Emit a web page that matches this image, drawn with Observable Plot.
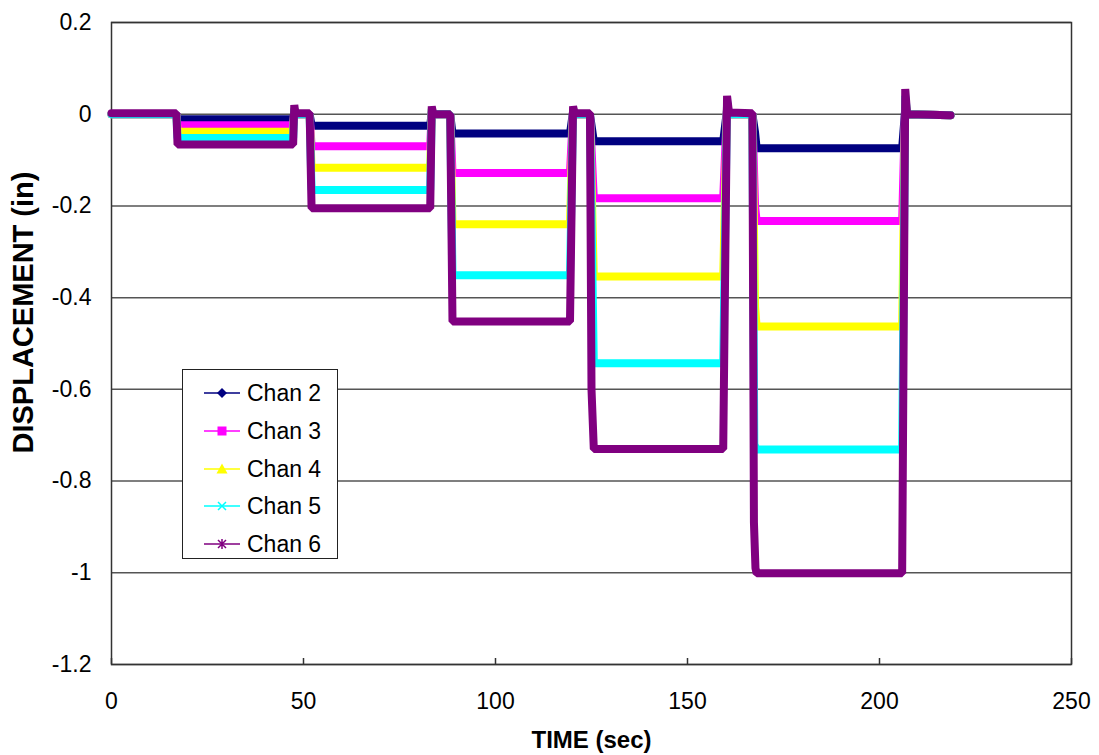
<!DOCTYPE html>
<html>
<head>
<meta charset="utf-8">
<script src="https://cdn.jsdelivr.net/npm/d3@7"></script>
<script src="https://cdn.jsdelivr.net/npm/@observablehq/plot@0.6"></script>
<style>
  body { margin: 0; background: #fff; }
  #wrap { position: relative; width: 1099px; height: 755px; font-family: "Liberation Sans", Arial, sans-serif; }
  #legend { position: absolute; left: 182px; top: 369px; width: 156px; height: 190px; border: 1.5px solid #222; background: #fff; box-sizing: border-box; }
  .row { position: absolute; left: 0; height: 30px; display: flex; align-items: center; }
  .row svg { margin-left: 21px; }
  .row span { margin-left: 7px; font-size: 23px; color: #000; }
</style>
</head>
<body>
<div id="wrap"><div id="legend"></div></div>
<script>
// ---- data ----
const channels = ["Chan 2", "Chan 3", "Chan 4", "Chan 5", "Chan 6"];
const colors = ["#000080", "#FF00FF", "#FFFF00", "#00FFFF", "#800080"];
const symbols = ["diamond", "square", "triangle", "cross", "asterisk"];

const xTicks = [0, 50, 100, 150, 200, 250];
const yTicks = [-1.2, -1, -0.8, -0.6, -0.4, -0.2, 0, 0.2];
const yTickLabels = ["-1.2", "-1", "-0.8", "-0.6", "-0.4", "-0.2", "0", "0.2"];

// [time (sec), displacement (in)]
const chan2 = [[0,0],[16.9,0],[17.2,-0.011],[47.3,-0.011],[47.6,0.004],[47.9,0],[51.6,0],[52.1,-0.025],[83.0,-0.025],[83.4,0.005],[83.8,0],[88.2,0],[88.8,-0.042],[119.4,-0.042],[120.2,0.006],[120.6,0],[124.6,0],[125.6,-0.059],[159.3,-0.059],[160.3,0.01],[160.8,0],[166.9,0],[167.6,-0.04],[168.0,-0.074],[205.9,-0.074],[206.7,0.012],[207.2,0],[218.5,-0.002]];
const chan3 = [[0,0],[16.9,0],[17.2,-0.024],[47.3,-0.024],[47.6,0.008],[47.9,0],[51.6,0],[52.1,-0.070],[83.0,-0.070],[83.4,0.008],[83.8,0],[88.2,0],[88.8,-0.128],[119.4,-0.128],[120.2,0.01],[120.6,0],[124.6,0],[125.6,-0.183],[159.3,-0.183],[160.3,0.02],[160.8,0],[166.9,0],[167.6,-0.2],[168.0,-0.233],[205.9,-0.233],[206.7,0.025],[207.2,0],[218.5,-0.002]];
const chan4 = [[0,0],[16.9,0],[17.2,-0.038],[47.3,-0.038],[47.6,0.012],[47.9,0],[51.6,0],[52.1,-0.117],[83.0,-0.117],[83.4,0.012],[83.8,0],[88.2,0],[88.8,-0.240],[119.4,-0.240],[120.2,0.012],[120.6,0],[124.6,0],[125.6,-0.354],[159.3,-0.354],[160.3,0.025],[160.8,0],[166.9,0],[167.6,-0.42],[168.0,-0.463],[205.9,-0.463],[206.7,0.035],[207.2,0],[218.5,-0.002]];
const chan5 = [[0,0],[16.9,0],[17.2,-0.052],[47.3,-0.052],[47.6,0.012],[47.9,0],[51.6,0],[52.1,-0.165],[83.0,-0.165],[83.4,0.012],[83.8,0],[88.2,0],[88.8,-0.351],[119.4,-0.351],[120.2,0.012],[120.6,0],[124.6,0],[125.6,-0.543],[159.3,-0.543],[160.3,0.03],[160.8,0],[166.9,0],[167.4,-0.72],[168.0,-0.731],[205.9,-0.731],[206.7,0.04],[207.2,0],[218.5,-0.002]];
const chan6 = [[0,0.002],[16.9,0.002],[17.2,-0.066],[47.3,-0.066],[47.6,0.02],[47.9,0.002],[51.6,0.002],[52.1,-0.205],[83.0,-0.205],[83.4,0.017],[83.8,0],[88.2,0],[88.8,-0.452],[119.4,-0.452],[120.2,0.017],[120.6,0.002],[124.6,0.002],[125.0,-0.6],[125.6,-0.730],[159.3,-0.730],[160.3,0.04],[160.8,0.004],[166.9,0.002],[167.3,-0.89],[167.7,-0.99],[168.0,-1.001],[205.9,-1.001],[206.7,0.055],[207.2,0],[218.5,-0.002]];

const series = [chan2, chan3, chan4, chan5, chan6];
const rows = channels.flatMap((ch, i) => series[i].map(([t, v]) => ({ch, t, v})));

const font = '"Liberation Sans", Arial, sans-serif';

const chart = Plot.plot({
  width: 1099,
  height: 755,
  marginLeft: 111,
  marginRight: 28,
  marginTop: 22,
  marginBottom: 91,
  x: {domain: [0, 250]},
  y: {domain: [-1.2, 0.2]},
  color: {domain: channels, range: colors},
  style: {fontFamily: font, fontSize: "23px", color: "#000", background: "#fff"},
  marks: [
    Plot.gridY(yTicks, {stroke: "#555", strokeOpacity: 1, strokeWidth: 1.5}),
    Plot.frame({stroke: "#333", strokeWidth: 1.5}),
    Plot.axisY(yTicks, {tickSize: 0, tickPadding: 20, fontSize: 23, label: null,
      tickFormat: d => yTickLabels[yTicks.indexOf(d)]}),
    Plot.axisX(xTicks, {tickSize: 0, tickPadding: 28, fontSize: 23, label: null}),
    Plot.tickX(xTicks, {x: d => d, insetTop: 636, stroke: "#333", strokeWidth: 1.5}),
    Plot.line(rows, {x: "t", y: "v", z: "ch", stroke: "ch", strokeWidth: 8, strokeLinejoin: "miter", curve: "linear"}),
    Plot.text(["DISPLACEMENT (in)"], {frameAnchor: "left", textAnchor: "middle", dx: -88, dy: -31, rotate: -90, text: d => d, fontWeight: "bold", fontSize: 29}),
    Plot.text(["TIME (sec)"], {frameAnchor: "bottom", dy: 83, text: d => d, fontWeight: "bold", fontSize: 24})
  ]
});
document.getElementById("wrap").prepend(chart);

// ---- legend ----
const legend = document.getElementById("legend");
const symbolSvg = (sym, c) => {
  const cx = 18, cy = 7;
  switch (sym) {
    case "diamond": return `<path d="M${cx},${cy-5}L${cx+5},${cy}L${cx},${cy+5}L${cx-5},${cy}Z" fill="${c}"/>`;
    case "square": return `<rect x="${cx-4.5}" y="${cy-4.5}" width="9" height="9" fill="${c}"/>`;
    case "triangle": return `<path d="M${cx},${cy-5.5}L${cx+5.5},${cy+4.5}L${cx-5.5},${cy+4.5}Z" fill="${c}"/>`;
    case "cross": return `<path d="M${cx-4},${cy-4}L${cx+4},${cy+4}M${cx+4},${cy-4}L${cx-4},${cy+4}" stroke="${c}" stroke-width="1.5"/>`;
    default: return `<path d="M${cx-4},${cy-4}L${cx+4},${cy+4}M${cx+4},${cy-4}L${cx-4},${cy+4}M${cx},${cy-5}L${cx},${cy+5}" stroke="${c}" stroke-width="1.5"/>`;
  }
};
const rowCenters = [23, 61, 99, 136, 174];
channels.forEach((ch, i) => {
  const row = document.createElement("div");
  row.className = "row";
  row.style.top = (rowCenters[i] - 15) + "px";
  row.innerHTML = `<svg width="36" height="14"><line x1="0" x2="36" y1="7" y2="7" stroke="${colors[i]}" stroke-width="2" opacity="0.75"/>${symbolSvg(symbols[i], colors[i])}</svg><span>${ch}</span>`;
  legend.appendChild(row);
});
</script>
</body>
</html>
